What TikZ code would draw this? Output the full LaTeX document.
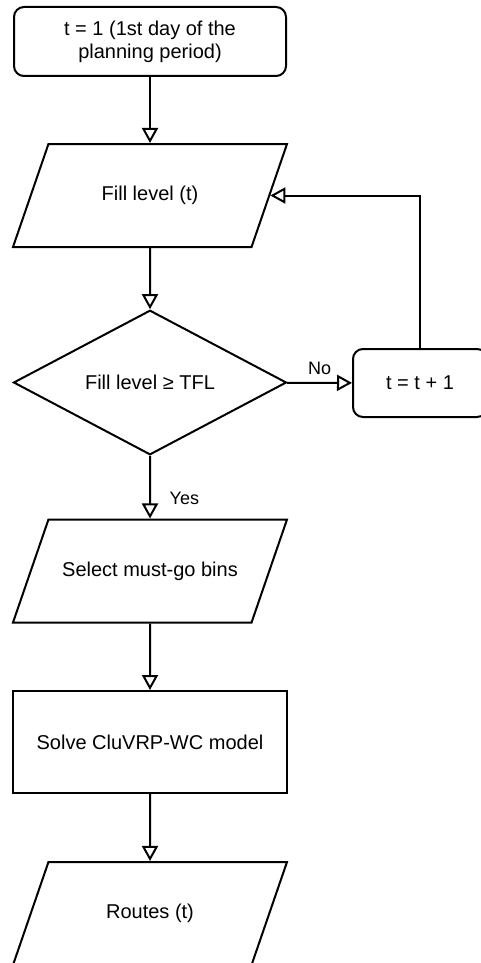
\documentclass[tikz,border=0pt]{standalone}
\usepackage{fontspec}
\setmainfont{Liberation Sans}
\usetikzlibrary{shapes.geometric,arrows.meta}

\tikzset{
  box/.style={draw, line width=1pt, align=center, inner sep=0pt,
    font=\fontsize{10}{11.5}\selectfont},
  roundbox/.style={box, rounded corners=5pt},
  iobox/.style={box, trapezium, trapezium left angle=71, trapezium right angle=109,
    trapezium stretches body, text height=7.5pt, text depth=2.5pt, inner ysep=20.75pt,
    minimum width=137pt, minimum height=51.5pt},
  decision/.style={box, diamond, minimum width=136.5pt, minimum height=68.5pt},
  flow/.style={-{Triangle[open,length=7.5pt,width=8pt]}, line width=1pt},
  tag/.style={font=\fontsize{9}{10}\selectfont}
}

\begin{document}
\begin{tikzpicture}[x=0.5pt,y=-0.5pt]
    \useasboundingbox (0,0) rectangle (481,963);

    % main column
    \node[roundbox, minimum width=136pt, minimum height=34.5pt] (start) at (150,41.5)
        {t = 1 (1st day of the\\planning period)};
    \node[iobox] (fill) at (150,195.5) {Fill level (t)};
    \node[decision] (test) at (150,382.5) {Fill level ≥ TFL};
    \node[iobox] (select) at (150,571) {Select must-go bins};
    \node[box, minimum width=137pt, minimum height=51pt] (solve) at (150,742) {Solve CluVRP-WC model};
    \node[iobox] (routes) at (150,913.5) {Routes (t)};

    % next day
    \node[roundbox, minimum width=67pt, minimum height=34pt] (incr) at (420,383) {t = t + 1};

    % arrows
    \draw[flow] (start) -- (fill);
    \draw[flow] (fill) -- (test);
    \draw[flow] (test) -- node[tag, above] {No} (incr);
    \draw[flow] (incr.north) |- (fill.east);
    \draw[flow] (test) -- node[tag, right=6pt, pos=0.68] {Yes} (select);
    \draw[flow] (select) -- (solve);
    \draw[flow] (solve) -- (routes);
\end{tikzpicture}
\end{document}
